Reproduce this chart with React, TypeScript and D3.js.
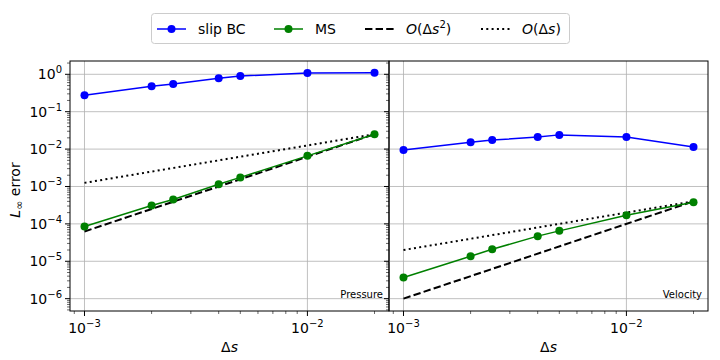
import * as d3 from "d3";

// grid spacing values
const ds = [0.001, 0.002, 0.0025, 0.004, 0.005, 0.01, 0.02];

// pressure panel
const pSlip = [0.275, 0.48, 0.55, 0.78, 0.9, 1.08, 1.1];
const pMS = [8.5e-5, 3.1e-4, 4.5e-4, 1.15e-3, 1.75e-3, 6.6e-3, 2.5e-2];
const pOrder2 = [6.25e-5, 2.5e-2];
const pOrder1 = [1.25e-3, 2.5e-2];

// velocity panel
const vSlip = [9.4e-3, 0.0152, 0.0174, 0.021, 0.024, 0.021, 0.0113];
const vMS = [3.7e-6, 1.36e-5, 2.1e-5, 4.7e-5, 6.5e-5, 1.7e-4, 3.8e-4];
const vOrder2 = [1e-6, 4e-4];
const vOrder1 = [2e-5, 4e-4];

const refX = [0.001, 0.02];
const yMajor = [1, 0.1, 0.01, 1e-3, 1e-4, 1e-5, 1e-6];
const xMajor = [0.001, 0.01];

const panels = [
  { x0: 70, x1: 389, slip: pSlip, ms: pMS, o2: pOrder2, o1: pOrder1, title: "Pressure", labels: true },
  { x0: 389, x1: 708, slip: vSlip, ms: vMS, o2: vOrder2, o1: vOrder1, title: "Velocity", labels: false },
];

const top = 61, bottom = 311;
const font = "DejaVu Sans, sans-serif";

const y = d3.scaleLog().domain([10 ** -6.33, 10 ** 0.356]).range([bottom, top]);

function Pow({ x, y: yy, exp, anchor = "middle" }: { x: number; y: number; exp: number; anchor?: string }) {
  return (
    <text x={x} y={yy} textAnchor={anchor} fontSize={14} fontFamily={font} fill="#000">
      10<tspan dy={-6} fontSize={10}>{exp < 0 ? "\u2212" + -exp : exp}</tspan>
    </text>
  );
}

function Panel({ p }: { p: typeof panels[0] }) {
  const x = d3.scaleLog().domain([10 ** -3.065, 10 ** -1.634]).range([p.x0, p.x1]);
  const line = (ys: number[], xs: number[]) =>
    d3.line<number>().x((_, i) => x(xs[i])).y((d) => y(d))(ys) as string;

  const xMinor: number[] = [];
  for (let e = -4; e <= -1; e++) for (let m = 2; m <= 9; m++) {
    const v = m * 10 ** e;
    if (v > x.domain()[0] && v < x.domain()[1]) xMinor.push(v);
  }
  const yMinor: number[] = [];
  for (let e = -7; e <= 0; e++) for (let m = 2; m <= 9; m++) {
    const v = m * 10 ** e;
    if (v > y.domain()[0] && v < y.domain()[1]) yMinor.push(v);
  }

  return (
    <g>
      {/* grid */}
      {xMajor.map((v) => (
        <line key={"gx" + v} x1={x(v)} x2={x(v)} y1={top} y2={bottom} stroke="#b0b0b0" strokeWidth={0.8} />
      ))}
      {yMajor.map((v) => (
        <line key={"gy" + v} x1={p.x0} x2={p.x1} y1={y(v)} y2={y(v)} stroke="#b0b0b0" strokeWidth={0.8} />
      ))}

      {/* reference lines */}
      <path d={line(p.o1, refX)} fill="none" stroke="#000" strokeWidth={2} strokeDasharray="2,3.3" />
      <path d={line(p.o2, refX)} fill="none" stroke="#000" strokeWidth={2} strokeDasharray="7.4,3.2" />

      {/* data */}
      <path d={line(p.slip, ds)} fill="none" stroke="#0000ff" strokeWidth={1.5} />
      {p.slip.map((v, i) => <circle key={"s" + i} cx={x(ds[i])} cy={y(v)} r={4} fill="#0000ff" />)}
      <path d={line(p.ms, ds)} fill="none" stroke="#008000" strokeWidth={1.5} />
      {p.ms.map((v, i) => <circle key={"m" + i} cx={x(ds[i])} cy={y(v)} r={4} fill="#008000" />)}

      {/* frame */}
      <rect x={p.x0} y={top} width={p.x1 - p.x0} height={bottom - top} fill="none" stroke="#000" strokeWidth={1} />

      {/* x ticks */}
      {xMajor.map((v) => (
        <g key={"tx" + v}>
          <line x1={x(v)} x2={x(v)} y1={bottom} y2={bottom + 5} stroke="#000" />
          <Pow x={x(v)} y={bottom + 22} exp={Math.round(Math.log10(v))} />
        </g>
      ))}
      {xMinor.map((v) => (
        <line key={"mx" + v} x1={x(v)} x2={x(v)} y1={bottom} y2={bottom + 3} stroke="#000" strokeWidth={0.6} />
      ))}

      {/* y ticks */}
      {yMajor.map((v) => (
        <g key={"ty" + v}>
          <line x1={p.x0} x2={p.x0 - 5} y1={y(v)} y2={y(v)} stroke="#000" />
          {p.labels && <Pow x={p.x0 - 8} y={y(v) + 5} exp={Math.round(Math.log10(v))} anchor="end" />}
        </g>
      ))}
      {yMinor.map((v) => (
        <line key={"my" + v} x1={p.x0} x2={p.x0 - 3} y1={y(v)} y2={y(v)} stroke="#000" strokeWidth={0.6} />
      ))}

      <text x={p.x1 - 6} y={bottom - 13} textAnchor="end" fontSize={10} fontFamily={font}>{p.title}</text>
      <text x={(p.x0 + p.x1) / 2} y={352} textAnchor="middle" fontSize={14} fontFamily={font}>
        Δ<tspan fontStyle="italic">s</tspan>
      </text>
    </g>
  );
}

const legendItems = [
  { label: "slip BC", color: "#0000ff", dash: "", marker: true, x: 157 },
  { label: "MS", color: "#008000", dash: "", marker: true, x: 274 },
  { label: "O2", color: "#000", dash: "7.4,3.2", marker: false, x: 365 },
  { label: "O1", color: "#000", dash: "2,3.3", marker: false, x: 481 },
];

function LegendLabel({ label, x }: { label: string; x: number }) {
  if (label === "O2")
    return (
      <text x={x} y={34} fontSize={14} fontFamily={font}>
        <tspan fontStyle="italic">O</tspan>(Δ<tspan fontStyle="italic">s</tspan>
        <tspan dy={-6} fontSize={10}>2</tspan><tspan dy={6}>)</tspan>
      </text>
    );
  if (label === "O1")
    return (
      <text x={x} y={34} fontSize={14} fontFamily={font}>
        <tspan fontStyle="italic">O</tspan>(Δ<tspan fontStyle="italic">s</tspan>)
      </text>
    );
  return <text x={x} y={34} fontSize={14} fontFamily={font}>{label}</text>;
}

export default function App() {
  return (
    <svg width={720} height={360} style={{ position: "absolute", left: 0, top: 0, background: "#fff" }}>
      <rect x={0} y={0} width={720} height={360} fill="#fff" />
      {panels.map((p) => <Panel key={p.title} p={p} />)}

      <text transform="translate(20,190) rotate(-90)" textAnchor="middle" fontSize={14} fontFamily={font}>
        <tspan fontStyle="italic">L</tspan><tspan fontSize={11} dy={3}>∞</tspan><tspan dy={-3}> error</tspan>
      </text>

      {/* legend */}
      <rect x={151.5} y={13.5} width={418} height={30} rx={3} fill="#fff" stroke="#cccccc" />
      {legendItems.map((it) => (
        <g key={it.label}>
          <line x1={it.x} x2={it.x + 29} y1={29} y2={29} stroke={it.color} strokeWidth={it.marker ? 1.5 : 2} strokeDasharray={it.dash || undefined} />
          {it.marker && <circle cx={it.x + 14.5} cy={29} r={4} fill={it.color} />}
          <LegendLabel label={it.label} x={it.x + 41} />
        </g>
      ))}
    </svg>
  );
}
